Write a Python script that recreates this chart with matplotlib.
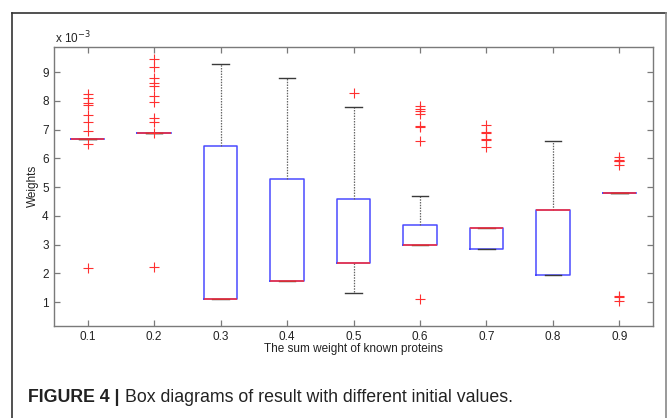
import matplotlib
matplotlib.use("Agg")
import matplotlib.pyplot as plt
from matplotlib.lines import Line2D

# ---- data (weights in units of 1e-3) ----
categories = ["0.1", "0.2", "0.3", "0.4", "0.5", "0.6", "0.7", "0.8", "0.9"]
medians = [6.66, 6.88, 1.12, 1.73, 2.36, 2.97, 3.58, 4.21, 4.81]
q1 = [6.66, 6.88, 1.12, 1.73, 2.36, 2.97, 2.84, 1.94, 4.81]
q3 = [6.66, 6.88, 6.43, 5.29, 4.58, 3.67, 3.58, 4.21, 4.81]
whisker_low = [6.66, 6.88, 1.12, 1.73, 1.32, 2.97, 2.84, 1.94, 4.81]
whisker_high = [6.66, 6.88, 9.27, 8.78, 7.77, 4.69, 3.58, 6.60, 4.81]
outliers = [
    [8.22, 8.11, 7.93, 7.85, 7.50, 7.26, 6.96, 6.48, 2.19],
    [9.45, 9.19, 8.80, 8.63, 8.52, 8.17, 7.96, 7.39, 7.26, 6.89, 2.21],
    [],
    [],
    [8.28],
    [7.82, 7.72, 7.64, 7.54, 7.14, 7.10, 6.61, 1.12],
    [7.15, 6.92, 6.87, 6.67, 6.64, 6.40],
    [],
    [6.05, 5.95, 5.92, 5.90, 5.75, 1.22, 1.18, 1.05],
]

W, H = 668, 418
fig = plt.figure(figsize=(W / 100, H / 100), dpi=100)
fig.patch.set_facecolor("white")

font = ["Liberation Sans", "DejaVu Sans"]

ax = fig.add_axes([54.3 / W, 1 - 325.7 / H, (652.7 - 54.3) / W, (325.7 - 46.7) / H])

stats = []
for i in range(len(categories)):
    stats.append(dict(med=medians[i], q1=q1[i], q3=q3[i],
                      whislo=whisker_low[i], whishi=whisker_high[i],
                      fliers=outliers[i], label=categories[i]))

positions = list(range(1, len(categories) + 1))
ax.bxp(stats, positions=positions, widths=0.5, capwidths=0.25,
       boxprops=dict(color="#4a4aff", linewidth=1.1),
       medianprops=dict(color="#ff3030", linewidth=1.1),
       whiskerprops=dict(color="#666666", linewidth=0.9, linestyle=(0, (1.2, 1.0))),
       capprops=dict(color="#3a3a3a", linewidth=1.0),
       flierprops=dict(marker="+", markeredgecolor="#ff3030", markersize=6.5,
                       markeredgewidth=0.8, linestyle="none"),
       manage_ticks=False)

ax.set_xlim(0.5, 9.5)
ax.set_ylim(0.18, 9.88)
ax.set_xticks(positions)
ax.set_xticklabels(categories)
ax.set_yticks(range(1, 10))
ax.set_yticklabels([str(v) for v in range(1, 10)])

for s in ax.spines.values():
    s.set_color("#7a7a7a")
    s.set_linewidth(1.0)
ax.tick_params(direction="in", length=4, width=0.9, color="#7a7a7a",
               top=True, right=True, labelsize=8.5, labelcolor="#222222", pad=4)
for lab in ax.get_xticklabels() + ax.get_yticklabels():
    lab.set_family(font)

ax.set_xlabel("The sum weight of known proteins", fontsize=8.5, family=font,
              color="#222222", labelpad=0)
ax.set_ylabel("Weights", fontsize=8.5, family=font, color="#222222", labelpad=2)

fig.text(55 / W, 1 - 38 / H, r"x 10$^{-3}$", fontsize=8.5, family=font,
         color="#222222", va="center", ha="left")

# caption
cap_y = 1 - 397 / H
t1 = fig.text(28 / W, cap_y, "FIGURE 4 |", fontsize=12.8, fontweight="bold",
              family=font, color="#222222", va="center", ha="left")
fig.canvas.draw()
bb = t1.get_window_extent()
fig.text((bb.x1 + 5) / W, cap_y, "Box diagrams of result with different initial values.",
         fontsize=12.8, family=font, color="#222222", va="center", ha="left")

# frame around the figure panel
fx0, fx1, fy0 = 12.5 / W, 665.5 / W, 1 - 12.5 / H
fig.add_artist(Line2D([fx0, fx0], [0, fy0], transform=fig.transFigure, color="#333333", lw=1.2))
fig.add_artist(Line2D([fx0, fx1], [fy0, fy0], transform=fig.transFigure, color="#333333", lw=1.2))
fig.add_artist(Line2D([fx1, fx1], [0, fy0], transform=fig.transFigure, color="#888888", lw=1.2))

fig.savefig("out.png", dpi=100)
